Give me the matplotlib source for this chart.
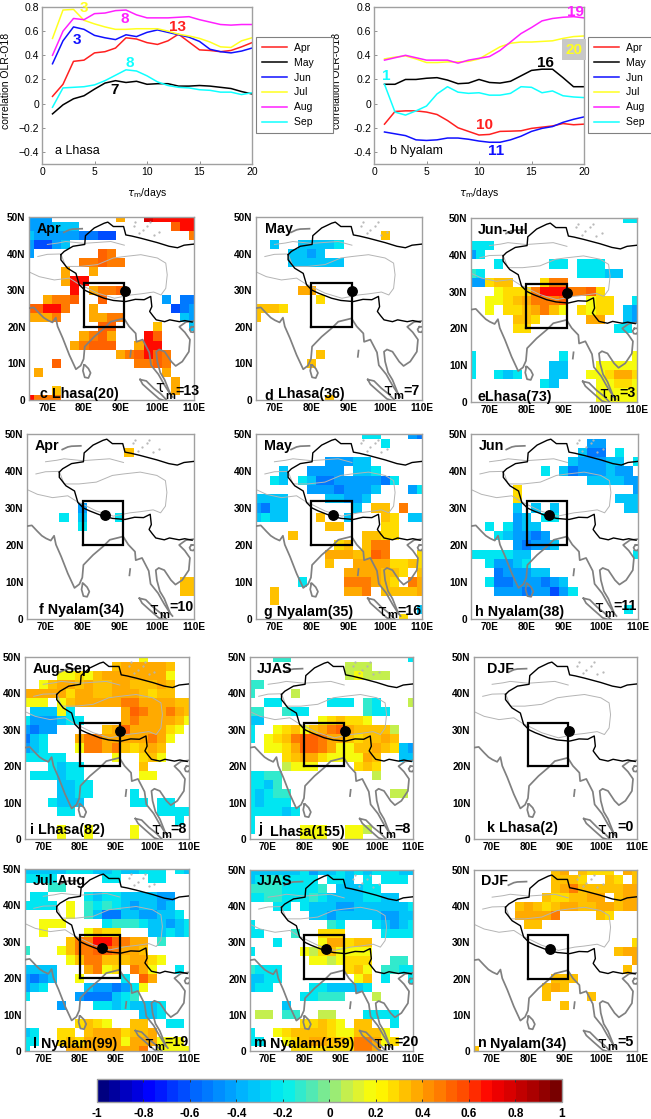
import numpy as np
import matplotlib
matplotlib.use('Agg')
import matplotlib.pyplot as plt
from matplotlib.colors import LinearSegmentedColormap, BoundaryNorm
from matplotlib.cm import ScalarMappable

plt.rcParams['font.family'] = ['Liberation Sans', 'DejaVu Sans']
W, H = 651, 1119

# ---------- line panel data ----------
TAU = list(range(1, 21))
MONTHS = ['Apr', 'May', 'Jun', 'Jul', 'Aug', 'Sep']
LHASA = {
 'Apr': [.06,.16,.35,.36,.42,.43,.46,.545,.535,.505,.49,.52,.575,.51,.445,.44,.43,.44,.47,.505],
 'May': [-.085,-.01,.04,.065,.12,.17,.19,.175,.185,.16,.165,.165,.145,.145,.15,.145,.135,.125,.10,.08],
 'Jun': [.33,.52,.635,.615,.565,.545,.53,.57,.555,.59,.61,.59,.57,.55,.515,.45,.43,.42,.435,.46],
 'Jul': [.54,.775,.78,.69,.66,.635,.615,.615,.62,.62,.62,.60,.575,.56,.54,.51,.47,.465,.52,.545],
 'Aug': [.40,.60,.705,.695,.745,.75,.77,.775,.735,.71,.71,.71,.715,.72,.695,.675,.655,.65,.655,.655],
 'Sep': [-.03,.13,.135,.14,.155,.19,.235,.28,.27,.23,.18,.15,.135,.13,.115,.11,.095,.095,.075,.09],
}
NYALAM = {
 'Apr': [-.17,-.065,-.06,-.06,-.07,-.09,-.14,-.20,-.23,-.26,-.255,-.23,-.228,-.225,-.205,-.195,-.185,-.165,-.175,-.17],
 'May': [.16,.16,.20,.20,.21,.215,.195,.165,.17,.20,.175,.17,.185,.23,.275,.285,.285,.215,.14,.14],
 'Jun': [-.235,-.25,-.265,-.30,-.305,-.30,-.285,-.285,-.295,-.31,-.32,-.32,-.30,-.27,-.23,-.205,-.19,-.155,-.13,-.11],
 'Jul': [.37,.385,.395,.37,.34,.34,.345,.345,.35,.37,.42,.47,.50,.51,.51,.515,.52,.54,.555,.56],
 'Aug': [.36,.38,.40,.38,.36,.36,.36,.335,.36,.375,.39,.44,.51,.58,.63,.685,.705,.715,.72,.71],
 'Sep': [.16,-.07,-.095,-.06,-.02,.08,.14,.095,.085,.09,.07,.07,.085,.14,.135,.09,.105,.065,.055,.05],
}
LINE_COLORS = {'Apr': '#ff2020', 'May': '#000000', 'Jun': '#1010ff',
               'Jul': '#ffff20', 'Aug': '#ff20ff', 'Sep': '#10ffff'}

# ---------- map data: (row from 50N, first column from 65E, codes) on a 2.5 degree grid ----------
CODES = {'a': -.62, 'b': -.52, 'c': -.43, 'd': -.33, 'e': -.23, 'f': -.12,
         'u': .10, 'v': .18, 'w': .27, 'x': .33, 'y': .40, 'z': .47,
         'o': .55, 'p': .68, 'q': .80}

CELLS_C = [(0,0,"ccc"),(0,10,"y"),(0,13,"qppppp"),(1,0,"cccddd"),(1,16,"opp"),
 (2,0,"dcccccbbaa"),(2,18,"z"),(3,0,"caacd"),(4,0,"c"),(4,8,"oz"),(5,6,"zzozz"),
 (6,4,"y"),(6,7,"y"),(7,4,"ypp"),(8,5,"p"),(8,7,"yzzo"),(9,2,"yzzo"),(9,8,"o"),(9,15,"c"),(9,17,"bb"),
 (10,0,"ooppz"),(10,7,"y"),(10,16,"abc"),(11,0,"yyyz"),(11,7,"yyzz"),(11,17,"dc"),
 (12,8,"oo"),(12,14,"x"),(12,18,"d"),(13,6,"yzoy"),(13,13,"po"),(14,5,"yzooo"),(14,12,"ypp"),
 (15,10,"yzopoz"),(16,3,"o"),(16,12,"zzoz"),(17,1,"y"),(17,15,"y"),(18,16,"y"),(19,16,"y"),(19,3,"x"),(20,0,"pzzz")]
CELLS_D = [(2,14,"x"),(3,2,"d"),(3,5,"dddde"),(4,4,"ddcd"),(5,4,"dddddd"),(8,5,"yy"),(9,7,"w"),
 (10,0,"xxxw"),(11,0,"x"),(15,7,"x"),(16,6,"x"),(20,8,"x")]
CELLS_E = [(0,17,"ee"),(3,0,"eee"),(4,0,"ce"),(5,3,"e"),(5,9,"ee"),(5,12,"eee"),(6,0,"fe"),(6,12,"eeedd"),
 (7,0,"cc"),(7,2,"wxx"),(7,8,"wzz"),(8,3,"vww"),(8,6,"wzpppzzow"),(9,2,"vvwxyzzzo"),(9,13,"vww"),(9,18,"e"),
 (10,2,"v"),(10,4,"wwxyzxv"),(10,12,"wvww"),(10,17,"dc"),(11,5,"xxw"),(11,13,"yy"),(11,17,"dc"),
 (12,5,"ww"),(12,16,"ee"),(15,0,"e"),(15,10,"e"),(15,18,"v"),(16,0,"e"),(16,9,"dd"),(16,14,"vvvvv"),
 (17,0,"e"),(17,3,"ede"),(17,9,"dd"),(17,13,"vvwyyw"),(18,8,"ed"),(18,14,"vvwwv"),(19,14,"vvvvv"),(20,14,"vvvvv")]
CELLS_F = [(2,11,"x"),(9,4,"e"),(8,6,"c"),(9,6,"d"),(10,6,"e"),(9,10,"e"),(16,17,"xx"),(17,17,"xx")]
CELLS_G = [(0,12,"ee"),(0,17,"cb"),(1,14,"e"),(3,8,"cccdd"),(4,3,"d"),(4,6,"cccc"),(4,11,"dde"),
 (5,2,"ed"),(5,5,"edbbcccccbe"),(6,6,"cccbcccd"),(6,17,"ce"),(7,0,"dddd"),(7,8,"ddccd"),
 (8,0,"cbdd"),(8,11,"d"),(8,13,"xx"),(8,16,"z"),(9,0,"dedd"),(9,7,"x"),(9,10,"d"),(9,14,"xw"),(9,17,"dd"),
 (10,8,"xx"),(10,14,"ww"),(11,4,"x"),(11,12,"xxww"),(12,9,"wx"),(12,12,"xzz"),(13,8,"yyyxxoz"),(13,18,"w"),
 (14,8,"x"),(14,11,"yyyywwxw"),(15,10,"yyyyxxw"),(15,18,"x"),(16,5,"e"),(16,10,"zzzyxw"),(16,17,"zy"),
 (17,2,"x"),(17,10,"yyz"),(17,14,"xxxxy"),(18,2,"x"),(19,18,"d"),(20,16,"w")]
CELLS_H = [(1,13,"cc"),(2,12,"dbb"),(2,16,"e"),(3,11,"dcccdd"),(3,18,"e"),(4,8,"e"),(4,10,"dbcccdcc"),
 (5,13,"ddddcc"),(6,5,"w"),(6,18,"c"),(7,5,"w"),(7,16,"ddd"),(8,5,"d"),(8,7,"d"),(8,9,"d"),(8,17,"dd"),
 (9,5,"cd"),(9,8,"ee"),(10,2,"e"),(10,4,"ecdd"),(11,3,"edccbc"),(12,5,"cbccd"),(13,0,"eeeeedd"),(13,18,"e"),
 (14,2,"eccde"),(15,3,"bcccdd"),(16,2,"ebbcccbcd"),(17,3,"cccbccace"),(19,17,"e")]
CELLS_I = [(0,13,"v"),(1,10,"xyyyyyx"),(2,4,"vvwvxyyyyyyyv"),(3,2,"vxyyxyxxyyxxxyx"),(4,0,"yyyyywyyxxyyyxwxx"),
 (5,0,"vvv"),(5,4,"v"),(5,5,"xyyyyyzzyyyyxx"),(6,1,"dddve"),(6,11,"yozyyzyx"),(7,0,"ecccdee"),(7,11,"yzyyyyxv"),
 (8,0,"cbcc"),(8,9,"xyoyyyywv"),(9,0,"bde"),(9,6,"yzzyyyyyzyv"),(10,0,"cde"),(10,6,"vzzyzxwxyx"),
 (11,0,"eeeee"),(11,10,"v"),(11,13,"wxv"),(12,3,"edee"),(12,13,"x"),(13,1,"eeedee"),(13,13,"vv"),
 (14,4,"ddee"),(15,4,"ddee"),(15,12,"e"),(16,3,"eddd"),(16,12,"ee"),(16,15,"ee"),(17,4,"ee"),(17,15,"eeee"),
 (18,17,"e"),(19,4,"v"),(19,7,"v"),(19,12,"v"),(20,4,"v"),(20,7,"v"),(20,12,"v")]
CELLS_J = [(0,3,"ff"),(0,18,"e"),(1,11,"uuu"),(2,11,"uvuuu"),(3,0,"ff"),(4,0,"f"),(4,5,"u"),(5,2,"ee"),(5,9,"eee"),
 (5,13,"fe"),(5,18,"u"),(6,0,"ff"),(6,4,"fee"),(6,13,"fee"),(7,0,"dd"),(7,8,"vwxwwv"),(8,0,"e"),
 (8,3,"vwxvxyzoyxxxxu"),(9,0,"e"),(9,2,"vwxzoozyyxwxxyx"),(10,2,"vvwyoozyvvxxyxw"),(10,17,"dc"),
 (11,4,"wxyywvvvvyx"),(11,17,"dd"),(12,4,"uvvv"),(12,12,"wxw"),(13,0,"eeff"),(13,14,"u"),(14,0,"eedf"),
 (15,0,"edeff"),(15,16,"uu"),(16,0,"edeee"),(17,0,"eeeede"),(18,0,"e"),(19,0,"e"),(19,6,"vvv"),(19,11,"vvu"),
 (20,6,"vvv"),(20,11,"vv")]
CELLS_K = []
CELLS_L = [(0,0,"ddddd"),(0,5,"eeeddeddeee"),(0,17,"ed"),(1,0,"eeee"),(1,9,"ee"),(1,14,"ee"),(2,3,"ff"),
 (3,1,"ee"),(3,7,"edeeddddcc"),(4,0,"eeee"),(4,5,"v"),(4,7,"fefedcddcd"),(5,5,"v"),(5,7,"fdbbddccdde"),
 (6,2,"vvv"),(6,9,"efffeddcde"),(7,2,"v"),(7,7,"vxww"),(7,14,"ddede"),(8,5,"xzzppozyy"),(8,15,"f"),
 (9,0,"f"),(9,4,"vxzzoozyyx"),(10,5,"vxzzxxxyywv"),(11,0,"dddd"),(11,7,"yzvw"),(11,12,"zyv"),(11,17,"e"),
 (12,0,"cbcd"),(12,6,"v"),(12,11,"e"),(12,13,"oy"),(13,0,"cde"),(13,7,"dccbce"),(13,13,"v"),
 (14,0,"e"),(14,6,"cbbbdef"),(15,4,"c"),(15,8,"eede"),(15,12,"ddde"),(16,13,"dde"),
 (17,6,"wxwv"),(17,12,"xx"),(17,16,"ee"),(18,0,"de"),(18,4,"ww"),(18,7,"xyyywxxy"),
 (19,0,"ee"),(19,4,"wxwyyyyvyyyvvv"),(20,0,"e"),(20,5,"yyyyyyyyz"),(20,15,"vvvv")]
CELLS_M = [(0,0,"dddddde"),(0,7,"cddededeee"),(0,17,"dd"),(1,0,"deffee"),(1,6,"ee"),(1,9,"ee"),(1,11,"d"),(1,13,"e"),(1,15,"eee"),
 (2,0,"ffffeeeef"),(2,10,"dddee"),(3,0,"eeffeeefeddddeedd"),(4,3,"ee"),(4,6,"edddccdddddde"),(5,7,"ddcdddddccdd"),
 (6,0,"e"),(6,9,"fe"),(6,14,"edcde"),(7,0,"ee"),(7,5,"f"),(7,8,"www"),(7,15,"eeee"),(8,3,"e"),(8,8,"vyywxx"),
 (9,0,"e"),(9,6,"vuwxvvvv"),(10,7,"vvuvwww"),(10,16,"ff"),(11,0,"feee"),(11,11,"wxv"),(11,15,"ffee"),
 (12,0,"ddee"),(12,12,"vx"),(12,15,"e"),(12,18,"e"),(13,0,"dee"),(13,7,"eedddde"),(14,6,"eefff"),(14,14,"u"),
 (15,4,"d"),(16,1,"uu"),(16,4,"ff"),(16,8,"uu"),(16,13,"eeee"),(17,6,"wwxwv"),(17,12,"xx"),(17,16,"e"),
 (18,0,"e"),(18,3,"vwxxxxwvvxxxv"),(19,0,"ee"),(19,4,"vwxyyxxwzzyvw"),(20,5,"wwwwwww"),(20,12,"zzy")]
CELLS_N = [(0,9,"xy"),(0,12,"xwww"),(0,17,"yx"),(1,9,"xxx"),(1,12,"w"),(1,15,"xw"),(1,18,"x"),(2,9,"xyzxxxxxyy"),
 (3,8,"xwwxxyy"),(3,16,"xyy"),(4,5,"xyxwxyyxxyyxyy"),(5,5,"yyyyz"),(5,14,"xw"),(6,6,"xx"),(8,18,"w"),(9,16,"xyy"),
 (10,18,"y"),(11,17,"x"),(12,9,"xxx"),(13,8,"xyx"),(14,8,"x"),(14,13,"x"),(15,10,"x"),(20,0,"x")]

# ---------- map outlines (lon, lat) ----------
COAST_LON = [65,66.3,67.8,69,70.1,71.4,72.3,72.8,74.2,76,77.8,79.1,79.9,80.2,82.8,85.5,87.3,90.9,92.3,94.1,94.3,96,97.8,98.3,100.3,102,103.6,104.2]
COAST_LAT = [25.1,25.3,23.7,22.5,21.8,21.2,22.5,20.1,16.9,12.3,8.4,9.4,11.2,14.6,17.3,19.6,21.4,22.3,20.1,18.2,15.9,16.5,13,9.5,7,4,1.5,0.8]
COAST2_LON = [103.6,102,100.8,100,99.7,100.5,102,103.8,105,106.8,108.6,108.9,107.5,106,107.8,110]
COAST2_LAT = [1.5,5.5,7.5,10.5,13.2,13.8,13.2,10.5,9.3,10.5,13.2,16.5,18.5,20,21.3,21.6]
LANKA_LON = [80,79.7,80.2,81.2,81.8,81.2,80.2,80]
LANKA_LAT = [9.6,8,6.2,6,7.4,8.6,9.6,9.6]
SUMATRA_LON = [95.3,97,99,101,103,100.5,98,96,95.3]
SUMATRA_LAT = [5.6,5.2,3.2,1.6,-0.5,0.3,2.5,4.3,5.6]
ANDAMAN_LON = [92.8,92.6]
ANDAMAN_LAT = [13.5,11.8]
BALKHASH_LON = [74.5,76,77,79.5]
BALKHASH_LAT = [45.8,46.5,46.7,46.8]
HAINAN_LON = [109.3,110.2,110.4,109.8,109.1,108.8,109.3]
HAINAN_LAT = [20,20,19.2,18.5,18.6,19.3,20]
BORDER_N_LON = [73.7,74.6,77,80.2,80.4,82.8,85.5,86.5,88,90.8,91.4,93,95.5,100,103.2,105.5,107.3,110]
BORDER_N_LAT = [39.7,40.6,42,42.5,44.9,47,48.3,48.6,47.4,47.4,45.1,44.8,44.2,43,42,41.6,42.3,42.6]
BORDER_S_LON = [73.7,73.7,75.5,77.8,78.7,80.2,81.9,85.5,88,91.4,94,96.4,98.2,98.5,97.9,98.8,99.7,102,103.4,106,107.5,109.5]
BORDER_S_LAT = [39.7,38.3,36,34.6,31.5,30,29.2,27.8,27.2,26.9,27.5,27.4,28.3,25.5,24.2,23,21.9,21.4,21.9,21.4,21.7,21.3]
TP_LON = [67.4,70,73.7,75,79,83.7,88,91,95.5,100,102.3,102.7,102.3,101,99,95.5,92.8,88.3,83.7,78.2,76,71.9,67.8,65]
TP_LAT = [39.2,39.8,39.9,36.5,36.5,37,38.8,39.2,39.7,38.8,37.4,34.2,30.5,28.7,29.5,29,28.7,27.8,29.2,31.9,33.3,32.8,33.7,35]
TS_LON = [70,73,75,80,87.3,91]
TS_LAT = [42.5,42.9,43.3,42.8,43.3,42.3]
DOTS_LON = [95,96,97.3,98,99,100.5,93.5,94]
DOTS_LAT = [45.5,46.5,47.6,48.5,45.2,46,47.5,48.5]

BOX_LON = [80, 91, 91, 80, 80]
BOX_LAT = [20, 20, 32, 32, 20]
LHASA_SITE = (91.1, 29.7)
NYALAM_SITE = (86.0, 28.2)

LAT_TICKS = [0, 10, 20, 30, 40, 50]
LAT_LABELS = ['0', '10N', '20N', '30N', '40N', '50N']
LON_TICKS = [70, 80, 90, 100, 110]
LON_LABELS = ['70E', '80E', '90E', '100E', '110E']
CB_TICKS = [-1, -.8, -.6, -.4, -.2, 0, .2, .4, .6, .8, 1]
CB_LABELS = ['-1', '-0.8', '-0.6', '-0.4', '-0.2', '0', '0.2', '0.4', '0.6', '0.8', '1']

# ---------- colour scale ----------
anchors = [(-1,(0,0,128)),(-.8,(0,0,255)),(-.6,(0,100,255)),(-.4,(0,175,255)),(-.2,(0,240,240)),
           (-.1,(70,232,190)),(0,(140,235,130)),(.1,(215,240,60)),(.2,(255,255,0)),(.3,(255,210,0)),
           (.4,(255,160,0)),(.6,(255,70,0)),(.7,(255,0,0)),(.85,(190,0,0)),(1,(120,0,0))]
cmap = LinearSegmentedColormap.from_list('rk', [((v+1)/2, tuple(c/255 for c in rgb)) for v, rgb in anchors], N=256)
levels = np.arange(-1, 1.0001, 0.05)
norm = BoundaryNorm(levels, cmap.N)

fig = plt.figure(figsize=(W/100, H/100), dpi=100)

def px_axes(l, t, r, b):
    return fig.add_axes([l/W, 1-b/H, (r-l)/W, (b-t)/H])

def px_text(x, y, s, **kw):
    kw.setdefault('va', 'center')
    kw.setdefault('ha', 'left')
    fig.text(x/W, 1-y/H, s, zorder=20, **kw)

GRAY = '#a0a0a0'

# ---------- line panels ----------
def line_panel(box, series, name, name_xy, notes, legend_xy, label_x, pad_chars):
    ax = px_axes(*box)
    handles = []
    for m in MONTHS:
        h, = ax.plot(TAU, series[m], color=LINE_COLORS[m], lw=1.1, label=m)
        handles.append(h)
    ax.set_xlim(0, 20); ax.set_ylim(-0.5, 0.8)
    ax.set_xticks([0, 5, 10, 15, 20])
    ax.set_yticks([-.4, -.2, 0, .2, .4, .6, .8])
    ax.set_yticklabels(['\u22120.4', '\u22120.2', '0', '0.2', '0.4', '0.6', '0.8'] if name.startswith('a')
                       else ['-0.4', '-0.2', '0', '0.2', '0.4', '0.6', '0.8'])
    ax.tick_params(direction='in', length=2, width=0.6, labelsize=7.5, color='#808080', pad=2)
    for s in ax.spines.values():
        s.set_color(GRAY); s.set_linewidth(1.0)
    ax.set_xlabel(r'$\tau_{\mathrm{m}}$/days', fontsize=7.5, labelpad=7)
    ax.set_ylabel('correlation OLR-O18', fontsize=7.5)
    ax.yaxis.set_label_coords(label_x, 0.53)
    ax.text(name_xy[0], name_xy[1], name, fontsize=9, va='center', ha='left')
    for x, y, s, c, bg in notes:
        ax.text(x, y, s, color=c, fontsize=11, fontweight='bold', ha='center', va='center', clip_on=False,
                bbox=dict(fc=bg, ec='none', pad=2.5) if bg else None)
    labels = [m + '\u00a0' * pad_chars for m in MONTHS]
    leg = fig.legend(handles, labels, loc='upper left', bbox_to_anchor=(legend_xy[0]/W, 1-legend_xy[1]/H),
                     bbox_transform=fig.transFigure, fontsize=7.5, frameon=True, fancybox=False,
                     edgecolor='#808080', framealpha=1, handlelength=2.4, labelspacing=0.47,
                     borderpad=0.55, handletextpad=0.65, borderaxespad=0)
    leg.get_frame().set_linewidth(0.8)

line_panel((42, 7, 252, 164), LHASA, 'a Lhasa', (1.25, -0.39),
           [(3.95, .79, '3', '#ffff20', None), (3.3, .53, '3', '#1010ff', None), (7.9, .70, '8', '#ff20ff', None),
            (12.9, .635, '13', '#ff2020', None), (8.4, .335, '8', '#10ffff', None), (6.9, .115, '7', 'k', None)],
           (256, 37), -0.148, 5)
line_panel((374, 7, 584, 164), NYALAM, 'b Nyalam', (1.5, -0.395),
           [(19.2, .755, '19', '#ff20ff', None), (19.05, .445, '20', '#ffff20', '#c8c8c8'), (16.3, .335, '16', 'k', None),
            (1.2, .225, '1', '#10ffff', None), (10.5, -.18, '10', '#ff2020', None), (11.65, -.395, '11', '#1010ff', None)],
           (588, 37), -0.152, 2)

# ---------- map panels ----------
LONS = np.arange(65, 110.01, 2.5)
LATS = np.arange(50, -0.01, -2.5)

def decode(cells):
    grid = np.full((len(LATS), len(LONS)), np.nan)
    for r, c, codes in cells:
        for i, ch in enumerate(codes):
            if c + i < len(LONS):
                grid[r, c+i] = CODES[ch]
    return grid

def map_panel(box, cells, site):
    ax = px_axes(*box)
    ax.pcolormesh(LONS, LATS, decode(cells), cmap=cmap, norm=norm, shading='nearest', zorder=1)
    ax.plot(TP_LON, TP_LAT, color='#b4b4b4', lw=0.7, zorder=2)
    ax.plot(TS_LON, TS_LAT, color='#b4b4b4', lw=0.7, zorder=2)
    ax.plot(DOTS_LON, DOTS_LAT, ls='none', marker='.', ms=1.2, color='#b4b4b4', zorder=2)
    for lo, la in [(COAST_LON, COAST_LAT), (COAST2_LON, COAST2_LAT), (LANKA_LON, LANKA_LAT),
                   (SUMATRA_LON, SUMATRA_LAT), (ANDAMAN_LON, ANDAMAN_LAT), (BALKHASH_LON, BALKHASH_LAT),
                   (HAINAN_LON, HAINAN_LAT)]:
        ax.plot(lo, la, color='#808080', lw=1.25, zorder=3)
    ax.plot(BORDER_N_LON, BORDER_N_LAT, color='k', lw=1.0, zorder=4)
    ax.plot(BORDER_S_LON, BORDER_S_LAT, color='k', lw=1.0, zorder=4)
    ax.plot(BOX_LON, BOX_LAT, color='k', lw=1.6, zorder=5, solid_joinstyle='miter')
    ax.plot(*site, 'o', color='k', ms=6.8, zorder=6)
    ax.set_xlim(65, 110); ax.set_ylim(0, 50)
    ax.set_xticks(LON_TICKS); ax.set_xticklabels(LON_LABELS)
    ax.set_yticks(LAT_TICKS); ax.set_yticklabels(LAT_LABELS)
    ax.tick_params(length=0, labelsize=7.3, pad=2.5)
    for l in ax.get_xticklabels() + ax.get_yticklabels():
        l.set_fontweight('bold')
    for s in ax.spines.values():
        s.set_color(GRAY); s.set_linewidth(1.0)
    return ax

PANELS = [
 ((29,217,194,400),  CELLS_C, LHASA_SITE,  [('Apr',37,229),('c Lhasa(20)',40,394)],            (160,388),(170,396),('=13',175,391)),
 ((256,217,422,400), CELLS_D, LHASA_SITE,  [('May',265,229),('d',264,396),('Lhasa(36)',278,394)],(388,391),(398,396),('=7',403,391)),
 ((471,218,637,402), CELLS_E, LHASA_SITE,  [('Jun-Jul',478,230),('eLhasa(73)',478,397)],        (604,394),(614,398),('=3',619,393)),
 ((27,434,194,619),  CELLS_F, NYALAM_SITE, [('Apr',35,446),('f Nyalam(34)',39,610)],            (154,609),(164,615),('=10',169,607)),
 ((256,434,422,619), CELLS_G, NYALAM_SITE, [('May',264,446),('g Nyalam(35)',264,612)],          (382,612),(392,615),('=16',397,611)),
 ((471,434,638,619), CELLS_H, NYALAM_SITE, [('Jun',479,446),('h Nyalam(38)',475,612)],          (599,608),(609,614),('=11',613,606)),
 ((25,657,189,839),  CELLS_I, LHASA_SITE,  [('Aug-Sep',33,669),('i Lhasa(82)',30,830)],         (156,830),(166,835),('=8',170,829)),
 ((250,657,413,839), CELLS_J, LHASA_SITE,  [('JJAS',257,669),('j',258,829),('Lhasa(155)',270,832)],(380,830),(390,835),('=8',394,829)),
 ((474,657,637,839), CELLS_K, LHASA_SITE,  [('DJF',487,669),('k Lhasa(2)',487,828)],            (602,830),(612,835),('=0',617,827)),
 ((25,869,189,1051), CELLS_L, NYALAM_SITE, [('Jul-Aug',33,881),('l Nyalam(99)',33,1044)],       (149,1043),(159,1047),('=19',164,1042)),
 ((250,870,413,1051),CELLS_M, NYALAM_SITE, [('JJAS',257,881),('m',254,1043),('Nyalam(159)',270,1044)],(378,1043),(388,1047),('=20',394,1042)),
 ((474,870,637,1051),CELLS_N, NYALAM_SITE, [('DJF',481,881),('n',478,1043),('Nyalam(34)',490,1044)],(602,1043),(612,1047),('=5',617,1042)),
]
for box, cells, site, labels, tau_xy, m_xy, eq in PANELS:
    map_panel(box, cells, site)
    for s, x, y in labels:
        px_text(x, y, s, fontsize=10.3, fontweight='bold')
    px_text(tau_xy[0], tau_xy[1], '\u03c4', fontsize=10.5, ha='center', family='DejaVu Sans')
    px_text(m_xy[0], m_xy[1], 'm', fontsize=8, fontweight='bold', ha='center')
    px_text(eq[1], eq[2], eq[0], fontsize=10.3, fontweight='bold')

# ---------- colour bar ----------
cax = px_axes(97, 1079, 562, 1102)
cb = fig.colorbar(ScalarMappable(norm=norm, cmap=cmap), cax=cax, orientation='horizontal',
                  spacing='proportional', drawedges=False)
cb.set_ticks(CB_TICKS); cb.set_ticklabels(CB_LABELS)
cb.minorticks_off()
cax.tick_params(direction='in', length=2, width=0.7, labelsize=8.5, pad=4, top=True, color='#303030')
for l in cax.get_xticklabels():
    l.set_fontweight('bold')
cb.outline.set_edgecolor(GRAY); cb.outline.set_linewidth(1.0)

fig.savefig('out.png', dpi=100)
